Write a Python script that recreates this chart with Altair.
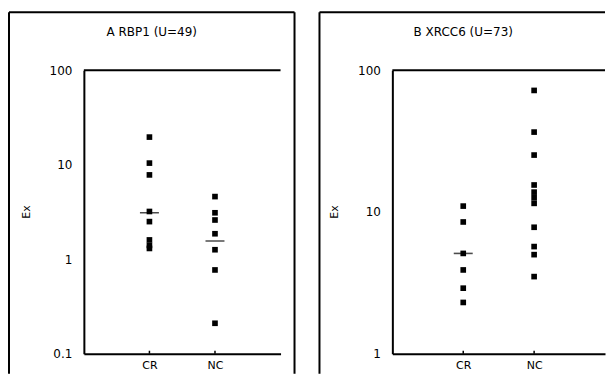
import altair as alt
import pandas as pd

# ---- data ----
categories = ["CR", "NC"]
cat_pos = [1, 2]

titles = ["A RBP1 (U=49)", "B XRCC6 (U=73)"]
y_title = "Ex"

a_cr = [19.6, 10.4, 7.8, 3.2, 2.5, 1.6, 1.4, 1.3]
a_nc = [4.6, 3.1, 2.6, 1.86, 1.26, 0.77, 0.21]
a_medians = [3.1, 1.56]          # CR, NC

b_cr = [11.0, 8.5, 5.1, 3.9, 2.9, 2.3]
b_nc = [72, 36.6, 25.2, 15.5, 13.8, 12.6, 11.5, 7.8, 5.7, 5.0, 3.5]
b_medians = [5.1]                # CR only visible

a_ticks = [0.1, 1, 10, 100]
b_ticks = [1, 10, 100]

FONT = "DejaVu Sans"
H = 284
BOX_TOP = -58
BOX_BOTTOM = 304


def panel(title, cr, nc, medians, domain, ticks, W, box_left, box_right,
          right_edge, title_x):
    pts = pd.DataFrame(
        {"x": [cat_pos[0]] * len(cr) + [cat_pos[1]] * len(nc),
         "value": cr + nc}
    )
    med = pd.DataFrame({"x": cat_pos[: len(medians)], "value": medians})
    cats = pd.DataFrame({"x": cat_pos, "label": categories})
    one = pd.DataFrame({"k": [0]})

    label_expr = " : ".join(
        [f"datum.value == {p} ? '{c}'" for p, c in zip(cat_pos, categories)]
    ) + " : ''"

    xs = alt.Scale(domain=[0, 3], nice=False, zero=False)
    ys = alt.Scale(type="log", domain=domain, nice=False)

    x_enc = alt.X(
        "x:Q", scale=xs,
        axis=alt.Axis(values=cat_pos, labelExpr=label_expr, title=None, grid=False,
                      ticks=False, domain=True, domainWidth=2, domainColor="black",
                      labelFont=FONT, labelFontSize=11, labelColor="black",
                      labelPadding=6),
    )
    y_enc = alt.Y(
        "value:Q", scale=ys,
        axis=alt.Axis(values=ticks, format="~g", title=None, grid=False, ticks=False,
                      domain=True, domainWidth=2, domainColor="black",
                      labelFont=FONT, labelFontSize=12, labelColor="black",
                      labelPadding=12),
    )

    points = alt.Chart(pts).mark_square(size=32, color="black", opacity=1).encode(
        x=x_enc, y=y_enc
    )
    medians_l = alt.Chart(med).mark_tick(
        orient="horizontal", size=19, thickness=1.6, color="black"
    ).encode(x=alt.X("x:Q", scale=xs), y=alt.Y("value:Q", scale=ys))

    xticks = alt.Chart(cats).mark_rule(color="black", strokeWidth=1.5).encode(
        x=alt.X("x:Q", scale=xs), y=alt.value(H), y2=alt.value(H - 3)
    )
    top_line = alt.Chart(one).mark_rule(color="black", strokeWidth=2).encode(
        x=alt.value(0), x2=alt.value(W), y=alt.value(0)
    )
    # panel frame (open at the bottom, and on the right when it runs off the page)
    frame_top = alt.Chart(one).mark_rule(color="black", strokeWidth=2).encode(
        x=alt.value(box_left), x2=alt.value(box_right), y=alt.value(BOX_TOP)
    )
    frame_left = alt.Chart(one).mark_rule(color="black", strokeWidth=2).encode(
        x=alt.value(box_left), y=alt.value(BOX_TOP), y2=alt.value(BOX_BOTTOM)
    )
    layers = [frame_top, frame_left]
    if right_edge:
        layers.append(
            alt.Chart(one).mark_rule(color="black", strokeWidth=2).encode(
                x=alt.value(box_right), y=alt.value(BOX_TOP), y2=alt.value(BOX_BOTTOM)
            )
        )
    ttl = alt.Chart(one).mark_text(
        font=FONT, fontSize=12, color="black", align="center", baseline="middle"
    ).encode(
        x=alt.value(title_x), y=alt.value(-38),
        text=alt.value(title)
    )
    ytl = alt.Chart(one).mark_text(
        font=FONT, fontSize=11, color="black", align="center", baseline="middle",
        angle=270
    ).encode(x=alt.value(-57), y=alt.value(H / 2), text=alt.value(y_title))

    layers += [ttl, ytl, top_line, xticks, medians_l, points]
    return alt.layer(*layers).properties(width=W, height=H)


left = panel(titles[0], a_cr, a_nc, a_medians, [0.1, 100], a_ticks,
             197, -75, 211, True, 68)
right = panel(titles[1], b_cr, b_nc, b_medians, [1, 100], b_ticks,
              213, -73, 213, False, 71)

chart = (
    alt.hconcat(left, right, spacing=23)
    .resolve_scale(y="independent", x="independent")
    .properties(padding={"top": 3, "left": 0, "right": 0, "bottom": 0},
                background="white")
    .configure_view(stroke=None)
)

chart.save("out.html", embed_options={"renderer": "svg", "actions": False})
